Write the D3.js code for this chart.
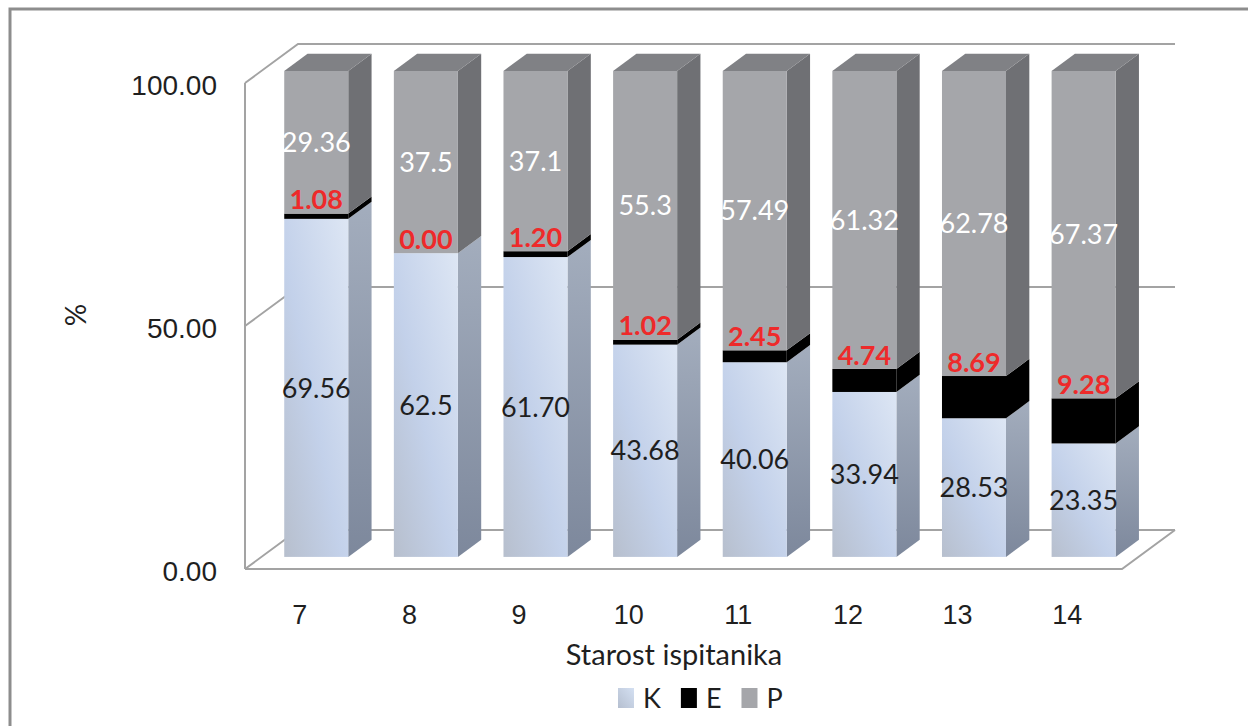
<!DOCTYPE html>
<html>
<head>
<meta charset="utf-8">
<script src="https://cdn.jsdelivr.net/npm/d3@7"></script>
<style>
  html, body { margin: 0; padding: 0; background: #ffffff; }
  svg { display: block; font-family: Lato, "Open Sans", "Liberation Sans", sans-serif; }
</style>
</head>
<body>
<svg id="chart" width="1248" height="726"></svg>
<script>
// Age groups and the three shares (percent) stacked in each bar
const categories = ["7", "8", "9", "10", "11", "12", "13", "14"];
const valuesK = [69.56, 62.5, 61.70, 43.68, 40.06, 33.94, 28.53, 23.35];
const valuesE = [1.08, 0.00, 1.20, 1.02, 2.45, 4.74, 8.69, 9.28];
const valuesP = [29.36, 37.5, 37.1, 55.3, 57.49, 61.32, 62.78, 67.37];
const labelsK = ["69.56", "62.5", "61.70", "43.68", "40.06", "33.94", "28.53", "23.35"];
const labelsE = ["1.08", "0.00", "1.20", "1.02", "2.45", "4.74", "8.69", "9.28"];
const labelsP = ["29.36", "37.5", "37.1", "55.3", "57.49", "61.32", "62.78", "67.37"];
const yTicks = [0, 50, 100];
const seriesNames = ["K", "E", "P"];

const svg = d3.select("#chart");

// Outer chart-area frame
svg.append("rect")
  .attr("x", 10).attr("y", 9).attr("width", 1400).attr("height", 900)
  .attr("fill", "none").attr("stroke", "#8d8d8d").attr("stroke-width", 3);

// Front plane scales; depth is handled by an oblique offset
const x = d3.scaleBand().domain(categories).range([245, 1122])
  .paddingInner(0.416).paddingOuter(0.208);
const y = d3.scaleLinear().domain([0, 100]).range([569, 83]);
const DX = 53, DY = 39;           // full depth offset of the box
const zFront = 0.31, zBack = 0.75; // bar depth within the box
const px = (xf, z) => xf + z * DX;
const py = (v, z) => y(v) - z * DY;

const defs = svg.append("defs");
const gK = defs.append("linearGradient").attr("id", "kFront")
  .attr("x1", 0).attr("y1", 1).attr("x2", 1).attr("y2", 0);
gK.append("stop").attr("offset", 0).attr("stop-color", "#b7bfcd");
gK.append("stop").attr("offset", 0.45).attr("stop-color", "#c3d1ea");
gK.append("stop").attr("offset", 1).attr("stop-color", "#dde6f4");
const gKs = defs.append("linearGradient").attr("id", "kSide")
  .attr("x1", 0).attr("y1", 0).attr("x2", 0).attr("y2", 1);
gKs.append("stop").attr("offset", 0).attr("stop-color", "#a3adbd");
gKs.append("stop").attr("offset", 1).attr("stop-color", "#7d889c");
const gKl = defs.append("linearGradient").attr("id", "kLegend")
  .attr("x1", 0).attr("y1", 1).attr("x2", 1).attr("y2", 0);
gKl.append("stop").attr("offset", 0).attr("stop-color", "#b5bfd0");
gKl.append("stop").attr("offset", 1).attr("stop-color", "#d4e0f2");

const styles = {
  K: { front: "url(#kFront)", side: "url(#kSide)", top: "#c9d3e2" },
  E: { front: "#000000", side: "#000000", top: "#111111" },
  P: { front: "#a5a6aa", side: "#6f7074", top: "#808185" }
};

// Walls and floor
const wall = svg.append("g").attr("fill", "none").attr("stroke", "#a3a3a3").attr("stroke-width", 2);
const x0 = x.range()[0], x1 = x.range()[1];
const line = d3.line();
// floor
wall.append("path").attr("d", line([[px(x0, 0), py(0, 0)], [px(x1, 0), py(0, 0)], [px(x1, 1), py(0, 1)]]));
// left wall outline and gridlines, back wall gridlines
wall.append("path").attr("d", line([[px(x0, 0), py(0, 0)], [px(x0, 0), py(100, 0)]]));
yTicks.forEach(v => {
  wall.append("path").attr("d", line([[px(x0, 0), py(v, 0)], [px(x0, 1), py(v, 1)], [px(x1, 1), py(v, 1)]]));
});

// Bars
const stackData = categories.map((c, i) => ({ cat: c, K: valuesK[i], E: valuesE[i], P: valuesP[i] }));
const stacked = d3.stack().keys(seriesNames)(stackData);

const bars = svg.append("g");
categories.forEach((c, i) => {
  const g = bars.append("g");
  const xl = x(c) + zFront * DX;
  const xr = xl + x.bandwidth();
  const dxb = (zBack - zFront) * DX, dyb = (zBack - zFront) * DY;
  stacked.forEach(s => {
    const [v0, v1] = s[i];
    if (v1 - v0 <= 0) return;
    const st = styles[s.key];
    const yb = py(v0, zFront), yt = py(v1, zFront);
    // right side face
    g.append("path")
      .attr("d", line([[xr, yb], [xr + dxb, yb - dyb], [xr + dxb, yt - dyb], [xr, yt]]) + "Z")
      .attr("fill", st.side);
    // front face
    g.append("rect").attr("x", xl).attr("y", yt)
      .attr("width", x.bandwidth()).attr("height", yb - yt)
      .attr("fill", st.front);
  });
  // top face of the stack
  const last = stacked[stacked.length - 1][i][1];
  const yt = py(last, zFront);
  g.append("path")
    .attr("d", line([[xl, yt], [xl + dxb, yt - dyb], [xr + dxb, yt - dyb], [xr, yt]]) + "Z")
    .attr("fill", styles.P.top);
});

// Data labels
const lab = svg.append("g").attr("text-anchor", "middle").attr("font-size", 27);
categories.forEach((c, i) => {
  const cx = x(c) + zFront * DX + x.bandwidth() / 2;
  const [k0, k1] = stacked[0][i];
  const [e0, e1] = stacked[1][i];
  const [p0, p1] = stacked[2][i];
  lab.append("text").attr("x", cx).attr("y", py((k0 + k1) / 2, zFront))
    .attr("dy", "0.36em").attr("fill", "#1f1f1f").text(labelsK[i]);
  lab.append("text").attr("x", cx).attr("y", py(p0 + (p1 - p0) / 2, zFront))
    .attr("dy", "0.36em").attr("fill", "#ffffff").text(labelsP[i]);
  lab.append("text").attr("x", cx).attr("y", py(e1, zFront) - 14)
    .attr("dy", "0.36em").attr("fill", "#ee2a2a").attr("font-weight", "bold").text(labelsE[i]);
});

// Value axis
const yAxis = svg.append("g").attr("transform", `translate(${x0},3)`)
  .call(d3.axisLeft(y).tickValues(yTicks).tickFormat(d3.format(".2f")).tickSize(0).tickPadding(28));
yAxis.select(".domain").remove();
yAxis.selectAll("text").attr("font-size", 28).attr("font-family", null).attr("fill", "#1f1f1f");

// Category axis
const xAxis = svg.append("g").attr("transform", `translate(0,${py(0, 0)})`)
  .call(d3.axisBottom(x).tickSize(0).tickPadding(36));
xAxis.select(".domain").remove();
xAxis.selectAll("text").attr("font-size", 27).attr("font-family", null).attr("fill", "#1f1f1f");

// Axis titles
svg.append("text").attr("x", 674).attr("y", 655).attr("dy", "0.36em")
  .attr("text-anchor", "middle").attr("font-size", 29).attr("fill", "#1f1f1f")
  .text("Starost ispitanika");
svg.append("text").attr("transform", "translate(76,315) rotate(-90)").attr("dy", "0.36em")
  .attr("text-anchor", "middle").attr("font-size", 28).attr("fill", "#1f1f1f").text("%");

// Legend
const legendFill = { K: "url(#kLegend)", E: "#000000", P: "#a5a6aa" };
const legend = svg.append("g").attr("transform", "translate(618,688)");
let lx = 0;
seriesNames.forEach(n => {
  const item = legend.append("g").attr("transform", `translate(${lx},0)`);
  item.append("rect").attr("width", 16).attr("height", 20).attr("fill", legendFill[n]);
  const t = item.append("text").attr("x", 25).attr("y", 10).attr("dy", "0.36em")
    .attr("font-size", 27).attr("fill", "#1f1f1f").text(n);
  lx += 25 + t.node().getComputedTextLength() + 20;
});
</script>
</body>
</html>
